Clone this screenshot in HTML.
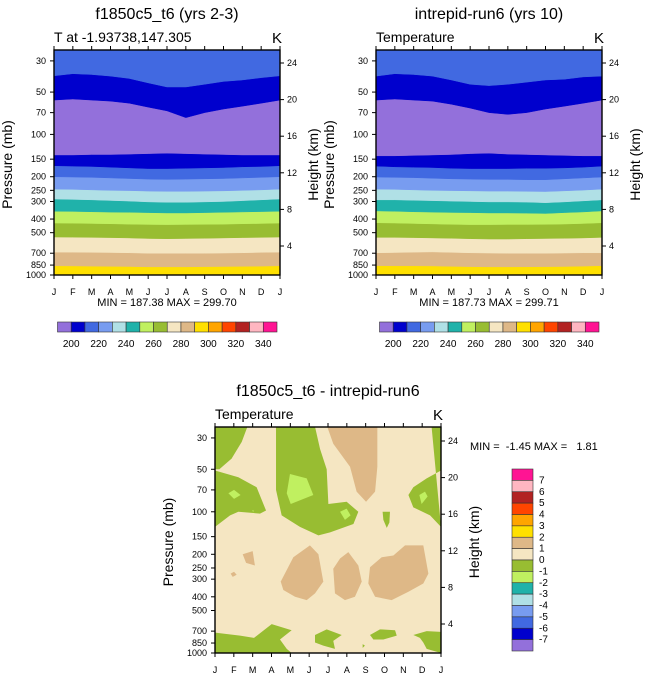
<!DOCTYPE html>
<html><head><meta charset="utf-8">
<style>
html,body{margin:0;padding:0;background:#fff;}
svg{display:block;font-family:"Liberation Sans",sans-serif;}
</style></head>
<body>
<svg id="fig" width="647" height="677" viewBox="0 0 647 677" xmlns="http://www.w3.org/2000/svg"></svg>
<script>
// ---- data ----
const months = ["J","F","M","A","M","J","J","A","S","O","N","D","J"];
const pressureTicks = [30,50,70,100,150,200,250,300,400,500,700,850,1000];
const heightTicks = [4,8,12,16,20,24];
const cbarLevels = [200,210,220,230,240,250,260,270,280,290,300,310,320,330,340];
const cbarLabels = [200,220,240,260,280,300,320,340];
const diffLabels = [7,6,5,4,3,2,1,0,-1,-2,-3,-4,-5,-6,-7];
// boundary pressures (mb) by month, panel 1 (bottom to top)
const p1_b290 = [860,862,865,868,870,875,875,875,872,870,868,865,860];
const p1_b280 = [687,688,690,692,695,700,700,700,700,698,695,690,687];
const p1_b270 = [537,538,540,542,545,550,552,550,548,545,542,540,537];
const p1_b260 = [427,428,430,432,435,437,438,437,436,435,432,430,427];
const p1_b250 = [352,353,355,357,358,360,362,362,360,358,356,354,352];
const p1_b240 = [288,290,292,295,298,302,304,304,302,300,296,292,288];
const p1_b230 = [245,246,248,250,251,253,254,254,253,252,250,248,245];
const p1_b220 = [200,201,202,204,206,208,209,208,207,206,204,202,200];
const p1_b210 = [167,168,169,171,173,175,175,174,173,172,170,169,167];
const p1_b200lo = [140,140,139,139,138,137,136,137,138,139,140,140,140];
const p1_b200up = [57,56,57,58,60,64,68,76,70,66,63,60,57];
const p1_b210up = [38.3,37,37.5,38.5,40,43,46,46,44,42,41,39.5,38.3];
// panel 2
const p2_b290 = [858,860,860,862,868,872,875,875,874,872,870,865,858];
const p2_b280 = [695,692,688,685,690,695,698,700,700,700,698,695,695];
const p2_b270 = [540,540,542,545,548,552,555,555,552,550,548,545,540];
const p2_b260 = [425,427,430,433,436,438,438,437,437,436,434,430,425];
const p2_b250 = [350,352,355,357,359,360,362,362,363,365,360,356,350];
const p2_b240 = [292,292,294,296,298,300,302,302,303,306,302,297,292];
const p2_b230 = [245,246,248,250,251,252,253,253,254,255,252,249,245];
const p2_b220 = [201,202,203,205,207,208,209,209,210,210,207,204,201];
const p2_b210 = [168,170,171,172,174,175,175,175,174,174,173,171,168];
const p2_b200lo = [142,142,141,140,139,137,136,138,139,140,141,142,142];
const p2_b200up = [57,56,57,58,61,65,70,72,70,66,63,60,57];
const p2_b210up = [38.5,37,37.5,38.5,41,44,45,44,42.5,41,40.5,39,38.5];
// difference panel contour regions, [month, pressure] vertices
const diffGreen = [
 [[0,25],[1.72,25],[1.42,32],[0.88,42],[0.23,50],[0,50]],
 [[0,51],[1.24,57],[2.21,67],[2.71,98],[2.39,103],[1.24,100],[0.8,106],[0,128]],
 [[3.24,25],[5.31,25],[5.58,36],[5.93,50],[6.02,88],[6.99,85],[7.61,100],[7.35,122],[6.11,140],[5.49,147],[4.51,128],[3.54,106],[3.24,70]],
 [[8.9,100],[9.29,100],[9.26,119],[9.12,130],[8.94,114]],
 [[11.5,25],[12,25],[12,51],[11.24,58],[10.53,67],[10.27,76],[10.53,93],[11.42,106],[12,128]],
 [[0,718],[1.33,753],[2.07,782],[3.01,625],[4.07,690],[3.45,802],[3.81,935],[4.07,1000],[0,1000]],
 [[5.31,745],[5.93,680],[6.73,745],[6.28,820],[6.37,935],[5.75,887],[5.31,842]],
 [[8.23,745],[8.76,680],[9.56,690],[9.65,753],[8.94,802],[8.41,802]],
 [[10.53,745],[11.24,700],[12,708],[12,1000],[11.24,935],[11.06,842],[10.88,782]],
 [[7.84,865],[7.96,887],[7.84,920]]
];
const diffLight = [
 [[0.71,74],[1.01,70],[1.36,76],[1.01,81]],
 [[3.98,54],[4.87,58],[5.22,76],[4.02,88],[3.81,74]],
 [[6.64,100],[6.99,95],[7.2,106],[6.9,114]],
 [[10.85,76],[11.15,72],[11.29,78],[10.97,88]],
 [[1.98,98],[2.04,97],[2.04,101]]
];
const diffTan = [
 [[5.96,25],[8.62,25],[8.62,48],[8.5,72],[8.02,85],[7.52,72],[7.17,48],[6.28,33]],
 [[1.47,200],[2.0,190],[2.12,240],[1.65,230]],
 [[0.83,274],[1.01,266],[1.15,279],[0.94,289]],
 [[3.49,312],[4.16,210],[5.04,173],[5.49,200],[5.75,312],[5.31,378],[4.87,422],[4.25,400],[3.63,358]],
 [[6.28,253],[6.64,214],[7.08,193],[7.61,240],[7.79,312],[7.43,400],[6.9,422],[6.37,378]],
 [[8.23,247],[8.85,210],[9.47,204],[10.09,173],[11.06,173],[11.33,274],[11.06,322],[10.27,368],[9.38,422],[8.5,400],[8.14,322]]
];

const C = {purple:"#9370DB",dblue:"#0000CD",royal:"#4169E1",corn:"#789CF0",pow:"#B0E0E6",teal:"#20B2AA",lgreen:"#C0F060",ygreen:"#98BD32",wheat:"#F5E6C2",tan:"#DEB887",gold:"#FFE000",orange:"#FFA500",ored:"#FF4500",brick:"#B22222",pink:"#FFB6C1",dpink:"#FF1493"};
const cbarColors = [C.purple,C.dblue,C.royal,C.corn,C.pow,C.teal,C.lgreen,C.ygreen,C.wheat,C.tan,C.gold,C.orange,C.ored,C.brick,C.pink,C.dpink];

const NS="http://www.w3.org/2000/svg";
const svg=document.getElementById('fig');
function mk(tag,attrs,parent){const e=document.createElementNS(NS,tag);for(const k in attrs)e.setAttribute(k,attrs[k]);(parent||svg).appendChild(e);return e;}
function txt(s,x,y,size,anchor,parent,extra){const t=mk('text',Object.assign({x:x,y:y,'font-size':size,'text-anchor':anchor||'start',fill:'#000'},extra||{}),parent);t.textContent=s;return t;}
const PTOP=25.1;

function panel(x0,y0,w,h,title,sub,name){
  const g=mk('g',{});
  
  
  const X=m=>x0+m*w/12;
  const Y=p=>y0+h-h*Math.log10(1000/p)/Math.log10(1000/PTOP);
  const YH=hk=>y0+h-29-(hk-4)*9.15;
  const clip='c'+name;
  const cp=mk('clipPath',{id:clip},g);mk('rect',{x:x0,y:y0,width:w,height:h},cp);
  const plot=mk('g',{'clip-path':'url(#'+clip+')'},g);
  
  
  return {g,plot,X,Y,YH,x0,y0,w,h,title,sub};
}
function axes(P){
  const {g,X,Y,YH,x0,y0,w,h}=P;
  const t=txt(P.title,x0+w/2,y0-31,16,'middle',g);
  
  const s=txt(P.sub,x0,y0-8,14,'start',g);
  
  const k=txt('K',x0+w+2,y0-7,15,'end',g);
  
  mk('rect',{x:x0,y:y0,width:w,height:h,fill:'none',stroke:'#000','stroke-width':1.4},g);
  months.forEach((m,i)=>{
    mk('line',{x1:X(i),x2:X(i),y1:y0+h,y2:y0+h+4,stroke:'#000','stroke-width':1},g);
    mk('line',{x1:X(i),x2:X(i),y1:y0,y2:y0-4,stroke:'#000','stroke-width':1},g);
    const l=txt(m,X(i),y0+h+20,9,'middle',g);
    
  });
  pressureTicks.forEach(p=>{
    mk('line',{x1:x0,x2:x0-4,y1:Y(p),y2:Y(p),stroke:'#000','stroke-width':1},g);
    const l=txt(String(p),x0-8,Y(p)+3,9,'end',g);
    
  });
  heightTicks.forEach(hk=>{
    mk('line',{x1:x0+w,x2:x0+w+4,y1:YH(hk),y2:YH(hk),stroke:'#000','stroke-width':1},g);
    const l=txt(String(hk),x0+w+7,YH(hk)+3,9,'start',g);
    
  });
  const yc=y0+h/2+2;
  const pl=txt('Pressure (mb)',x0-42,yc,14,'middle',g,{transform:`rotate(-90 ${x0-42} ${yc})`});
  
  const hl=txt('Height (km)',x0+w+38,yc,14,'middle',g,{transform:`rotate(-90 ${x0+w+38} ${yc})`});
  
}
function bands(P,bs,cols){
  const all=[months.map(()=>1000)].concat(bs).concat([months.map(()=>PTOP)]);
  for(let k=0;k<cols.length;k++){
    const lo=all[k],hi=all[k+1];
    let pts=[];
    lo.forEach((p,i)=>pts.push(P.X(i)+','+P.Y(p)));
    for(let i=hi.length-1;i>=0;i--)pts.push(P.X(i)+','+P.Y(hi[i]));
    const pg=mk('polygon',{points:pts.join(' '),fill:cols[k],stroke:cols[k],'stroke-width':0.5},P.plot);
    
    
  }
}
function polys(P,list,col){
  list.forEach(poly=>{
    const pts=poly.map(v=>P.X(v[0])+','+P.Y(v[1])).join(' ');
    const pg=mk('polygon',{points:pts,fill:col,'stroke-linejoin':'round'},P.plot);
    
    
  });
}
function hbar(x0,y,w,hgt){
  const g=mk('g',{});
  
  
  const bw=w/cbarColors.length;
  cbarColors.forEach((c,i)=>mk('rect',{x:x0+i*bw,y:y,width:bw,height:hgt,fill:c,stroke:'#333','stroke-width':0.6},g));
  cbarLevels.forEach((lv,i)=>{
    if(cbarLabels.indexOf(lv)>=0){
      const l=txt(String(lv),x0+(i+1)*bw,y+hgt+15,10,'middle',g);
      
    }
  });
}
const colsUp=[C.gold,C.tan,C.wheat,C.ygreen,C.lgreen,C.teal,C.pow,C.corn,C.royal,C.dblue,C.purple,C.dblue,C.royal];

const P1=panel(54,50,226,225,'f1850c5_t6 (yrs 2-3)','T at -1.93738,147.305','panel-case1');
bands(P1,[p1_b290,p1_b280,p1_b270,p1_b260,p1_b250,p1_b240,p1_b230,p1_b220,p1_b210,p1_b200lo,p1_b200up,p1_b210up],colsUp);
axes(P1);
let m1=txt('MIN = 187.38 MAX = 299.70',167,306,11,'middle');

hbar(57.5,322,219.5,10);

const P2=panel(376,50,226,225,'intrepid-run6 (yrs 10)','Temperature','panel-case2');
bands(P2,[p2_b290,p2_b280,p2_b270,p2_b260,p2_b250,p2_b240,p2_b230,p2_b220,p2_b210,p2_b200lo,p2_b200up,p2_b210up],colsUp);
axes(P2);
let m2=txt('MIN = 187.73 MAX = 299.71',489,306,11,'middle');

hbar(379.5,322,219.5,10);

const P3=panel(215,427,226,226,'f1850c5_t6 - intrepid-run6','Temperature','panel-difference');
mk('rect',{x:215,y:427,width:226,height:226,fill:C.wheat},P3.plot);
polys(P3,diffGreen,C.ygreen);
polys(P3,diffLight,C.lgreen);
polys(P3,diffTan,C.tan);
axes(P3);
let m3=txt('MIN =  -1.45 MAX =   1.81',470,450,11,'start',null,{style:'white-space:pre'});

const vb=mk('g',{});


const vcols=cbarColors.slice().reverse();
const bh=182/vcols.length;
vcols.forEach((c,i)=>mk('rect',{x:512,y:469+i*bh,width:21,height:bh,fill:c,stroke:'#333','stroke-width':0.6},vb));
diffLabels.forEach((v,i)=>{
  const l=txt(String(v),539,469+(i+1)*bh+3,10,'start',vb);
  
});
</script>
</body></html>
